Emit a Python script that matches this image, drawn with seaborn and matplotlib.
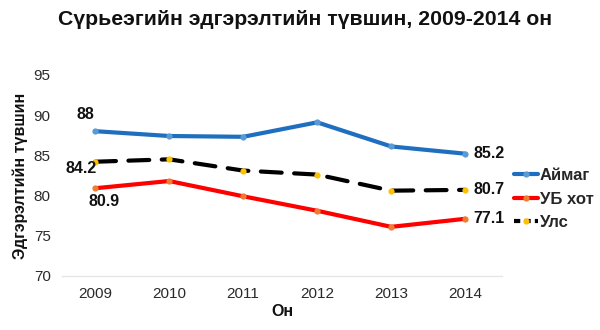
import matplotlib
matplotlib.use("Agg")
import matplotlib.pyplot as plt
import seaborn as sns
import pandas as pd
from matplotlib.lines import Line2D

years = [2009, 2010, 2011, 2012, 2013, 2014]
aimag = [88.0, 87.4, 87.3, 89.1, 86.1, 85.2]
ub = [80.9, 81.8, 79.9, 78.1, 76.1, 77.1]
uls = [84.2, 84.5, 83.1, 82.6, 80.6, 80.7]
series_names = ["Аймаг", "УБ хот", "Улс"]

sns.set_theme(style="white")
plt.rcParams['font.family'] = ['Liberation Sans', 'DejaVu Sans']

fig = plt.figure(figsize=(6, 3.3), dpi=100)
ax = fig.add_axes([0.103, 0.164, 0.734, 0.609])

styles = [
    dict(color="#1F6FC0", mfc="#5B9BD5", dashes=None),
    dict(color="#FF0000", mfc="#ED7D31", dashes=None),
    dict(color="#000000", mfc="#FFC000", dashes=(5, 3)),
]
handles = []
for name, vals, st in zip(series_names, [aimag, ub, uls], styles):
    df = pd.DataFrame({"year": years, "value": vals})
    sns.lineplot(data=df, x="year", y="value", ax=ax, color=st["color"], linewidth=3.0,
                 marker="o", markersize=4.5, markerfacecolor=st["mfc"], markeredgewidth=0,
                 legend=False)
    line = ax.get_lines()[-1]
    if st["dashes"]:
        line.set_dashes(st["dashes"])
    line.set_solid_capstyle("round")
    line.set_dash_capstyle("round")
    h = Line2D([], [], color=st["color"], linewidth=3.0, marker="o", markersize=4.5,
               markerfacecolor=st["mfc"], markeredgewidth=0)
    if st["dashes"]:
        h.set_dashes((1.5, 1.0))
    handles.append(h)

ax.set_xlim(2008.55, 2014.5)
ax.set_ylim(70, 95)
ax.set_yticks([70, 75, 80, 85, 90, 95])
ax.set_xticks(years)
ax.set_xticklabels([str(y) for y in years])
ax.tick_params(axis="both", labelsize=11, colors="#2a2a2a", length=0, pad=8)
for s in ["top", "right", "left"]:
    ax.spines[s].set_visible(False)
ax.spines["bottom"].set_color("#E6E6E6")
ax.spines["bottom"].set_linewidth(1)
ax.grid(False)

lbl = dict(fontsize=11.5, fontweight="bold", color="#111111")
ax.annotate(f"{aimag[0]:g}", (years[0], aimag[0]), xytext=(-7, 12), textcoords="offset points", ha="center", va="center", **lbl)
ax.annotate(f"{uls[0]:g}", (years[0], uls[0]), xytext=(-10, -5), textcoords="offset points", ha="center", va="center", **lbl)
ax.annotate(f"{ub[0]:g}", (years[0], ub[0]), xytext=(6.5, -9.5), textcoords="offset points", ha="center", va="center", **lbl)
for vals in [aimag, uls, ub]:
    ax.annotate(f"{vals[-1]:g}", (years[-1], vals[-1]), xytext=(6, 0), textcoords="offset points", ha="left", va="center", **lbl)

ax.set_xlabel("Он", fontsize=11.5, fontweight="bold", color="#111111", labelpad=2)
ax.set_ylabel("Эдгэрэлтийн түвшин", fontsize=11.5, fontweight="bold", color="#111111", labelpad=4)
fig.suptitle("Сүрьеэгийн эдгэрэлтийн түвшин, 2009-2014 он", x=0.508, y=0.97,
             fontsize=15.3, fontweight="bold", color="#111111")

leg = fig.legend(handles, series_names, loc="upper left", bbox_to_anchor=(0.857, 0.49),
                 frameon=False, prop=dict(size=12, weight="bold"), handlelength=1.45,
                 handletextpad=0.1, labelspacing=0.5, borderaxespad=0, borderpad=0)

fig.savefig("out.png", dpi=100)
